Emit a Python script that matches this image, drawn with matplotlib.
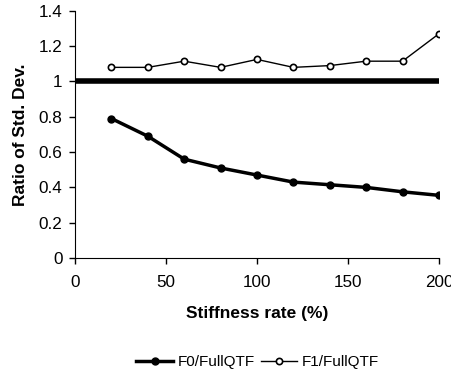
import numpy as np
import matplotlib.pyplot as plt

plt.rcParams['font.family'] = ['Liberation Sans', 'DejaVu Sans']

stiffness = [20, 40, 60, 80, 100, 120, 140, 160, 180, 200]
f0_ratio = [0.79, 0.69, 0.56, 0.51, 0.47, 0.43, 0.415, 0.40, 0.375, 0.355]
f1_ratio = [1.08, 1.08, 1.115, 1.08, 1.125, 1.08, 1.09, 1.115, 1.115, 1.27]
ref_x = [0, 200]
ref_y = [1, 1]

fig = plt.figure(figsize=(4.52, 3.75), dpi=100)
ax = fig.add_axes([0.166, 0.312, 0.805, 0.659])

ax.plot(ref_x, ref_y, color='black', lw=4, solid_capstyle='butt')
ax.plot(stiffness, f0_ratio, color='black', lw=2.5, marker='o', ms=5,
        mfc='black', label='F0/FullQTF')
ax.plot(stiffness, f1_ratio, color='black', lw=1, marker='o', ms=4.5,
        mfc='white', mew=1.2, label='F1/FullQTF')

ax.set_xlim(0, 200)
ax.set_ylim(0, 1.4)
ax.set_xticks([0, 50, 100, 150, 200])
ax.set_yticks([0, 0.2, 0.4, 0.6, 0.8, 1.0, 1.2, 1.4])
ax.set_yticklabels(['0', '0.2', '0.4', '0.6', '0.8', '1', '1.2', '1.4'])
ax.tick_params(labelsize=12.3, length=4, direction='out', width=1)
ax.tick_params(axis='x', pad=8)
ax.tick_params(axis='y', pad=5)
ax.spines['top'].set_visible(False)
ax.spines['right'].set_visible(False)

ax.set_xlabel('Stiffness rate (%)', fontsize=12.5, fontweight='bold', labelpad=12)
ax.set_ylabel('Ratio of Std. Dev.', fontsize=12.5, fontweight='bold', labelpad=8)

fig.legend(loc='center', bbox_to_anchor=(0.57, 0.035), ncol=2, frameon=False,
           fontsize=11, handlelength=2.4, columnspacing=0.4, handletextpad=0.3)

fig.savefig('out.png', dpi=100)
